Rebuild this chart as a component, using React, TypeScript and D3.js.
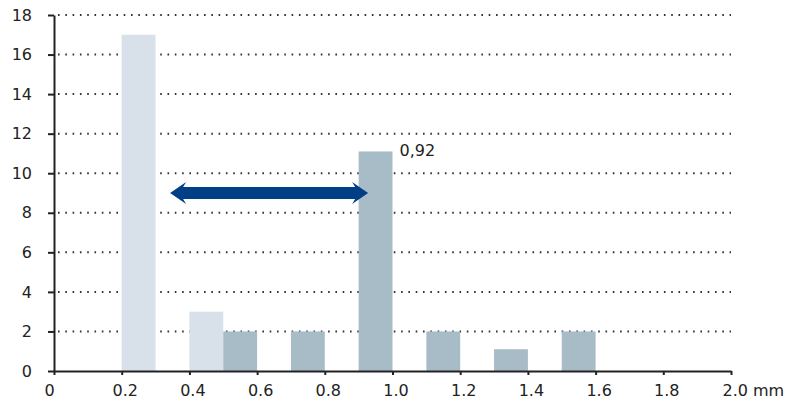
import React, { useEffect, useRef } from "react";
import * as d3 from "d3";

// bins: [start, end] in mm
const lightStarts = [0.2, 0.4];
const lightValues = [17, 3];
const darkStarts = [0.5, 0.7, 0.9, 1.1, 1.3, 1.5];
const darkValues = [2, 2, 11.1, 2, 1.1, 2];
const binWidth = 0.1;
const yTicks = [0, 2, 4, 6, 8, 10, 12, 14, 16, 18];
const xTicks = [0, 0.2, 0.4, 0.6, 0.8, 1.0, 1.2, 1.4, 1.6, 1.8, 2.0];
const xTickLabels = ["0", "0.2", "0.4", "0.6", "0.8", "1.0", "1.2", "1.4", "1.6", "1.8", "2.0 mm"];
const arrowRange = [0.343, 0.928];
const arrowLevel = 9;
const peakLabel = "0,92";

const width = 804;
const height = 403;
const margin = { top: 15, right: 73, bottom: 32, left: 54 };

const App: React.FC = () => {
  const svgRef = useRef<SVGSVGElement | null>(null);

  useEffect(() => {
    const svg = d3.select(svgRef.current);
    svg.selectAll("*").remove();

    const x = d3
      .scaleLinear()
      .domain([0, 2])
      .range([margin.left, width - margin.right]);
    const y = d3
      .scaleLinear()
      .domain([0, 18])
      .range([height - margin.bottom, margin.top]);

    const font = "'DejaVu Sans', sans-serif";

    // dotted grid lines
    svg
      .append("g")
      .selectAll("line")
      .data(yTicks.filter((d) => d > 0))
      .join("line")
      .attr("x1", x(0) + 4)
      .attr("x2", x(2))
      .attr("y1", (d) => y(d))
      .attr("y2", (d) => y(d))
      .attr("stroke", "#333")
      .attr("stroke-width", 2)
      .attr("stroke-dasharray", "1.6 5.7");

    // bars
    svg
      .append("g")
      .selectAll("rect")
      .data(lightStarts.map((s, i) => ({ s, v: lightValues[i] })))
      .join("rect")
      .attr("x", (d) => x(d.s))
      .attr("width", (d) => x(d.s + binWidth) - x(d.s))
      .attr("y", (d) => y(d.v))
      .attr("height", (d) => y(0) - y(d.v))
      .attr("fill", "#d8e1e9");

    svg
      .append("g")
      .selectAll("rect")
      .data(darkStarts.map((s, i) => ({ s, v: darkValues[i] })))
      .join("rect")
      .attr("x", (d) => x(d.s))
      .attr("width", (d) => x(d.s + binWidth) - x(d.s))
      .attr("y", (d) => y(d.v))
      .attr("height", (d) => y(0) - y(d.v))
      .attr("fill", "#a8bcc7");

    // Y axis
    const yAxis = svg
      .append("g")
      .attr("transform", `translate(${x(0)},0)`)
      .call(d3.axisLeft(y).tickValues(yTicks).tickSize(6).tickSizeOuter(0).tickPadding(16));
    yAxis.select(".domain").attr("stroke", "#222").attr("stroke-width", 2);
    yAxis.selectAll(".tick line").attr("stroke", "#222").attr("stroke-width", 2);
    yAxis
      .selectAll(".tick text")
      .attr("font-family", font)
      .attr("font-size", 16)
      .attr("fill", "#222");

    // X axis
    const xAxis = svg
      .append("g")
      .attr("transform", `translate(0,${y(0)})`)
      .call(
        d3
          .axisBottom(x)
          .tickValues(xTicks)
          .tickSize(4)
          .tickSizeOuter(0)
          .tickPadding(10)
          .tickFormat((_, i) => xTickLabels[i])
      );
    xAxis.select(".domain").attr("stroke", "#222").attr("stroke-width", 2);
    xAxis.selectAll(".tick line").attr("stroke", "#222").attr("stroke-width", 2);
    xAxis
      .selectAll<SVGTextElement, number>(".tick text")
      .attr("font-family", font)
      .attr("font-size", 16)
      .attr("fill", "#222")
      .attr("text-anchor", (d) => (d === 2 ? "start" : "middle"))
      .attr("dx", (d) => (d === 0 ? -5 : d === 2 ? -9 : 3));

    // double-headed arrow
    const ax0 = x(arrowRange[0]);
    const ax1 = x(arrowRange[1]);
    const ay = y(arrowLevel);
    const headLen = 16;
    const headHalf = 11;
    const shaftHalf = 6;
    const path = d3.path();
    path.moveTo(ax0, ay);
    path.lineTo(ax0 + headLen, ay - headHalf);
    path.lineTo(ax0 + headLen - 3, ay - shaftHalf);
    path.lineTo(ax1 - headLen + 3, ay - shaftHalf);
    path.lineTo(ax1 - headLen, ay - headHalf);
    path.lineTo(ax1, ay);
    path.lineTo(ax1 - headLen, ay + headHalf);
    path.lineTo(ax1 - headLen + 3, ay + shaftHalf);
    path.lineTo(ax0 + headLen - 3, ay + shaftHalf);
    path.lineTo(ax0 + headLen, ay + headHalf);
    path.closePath();
    svg.append("path").attr("d", path.toString()).attr("fill", "#003e86");

    // peak label
    svg
      .append("text")
      .attr("x", x(darkStarts[2] + binWidth) + 7)
      .attr("y", y(darkValues[2]) + 5)
      .attr("font-family", font)
      .attr("font-size", 16)
      .attr("fill", "#222")
      .text(peakLabel);
  }, []);

  return (
    <svg
      ref={svgRef}
      width={width}
      height={height}
      style={{ position: "absolute", left: 0, top: 0, background: "#fff" }}
    />
  );
};

export default App;
